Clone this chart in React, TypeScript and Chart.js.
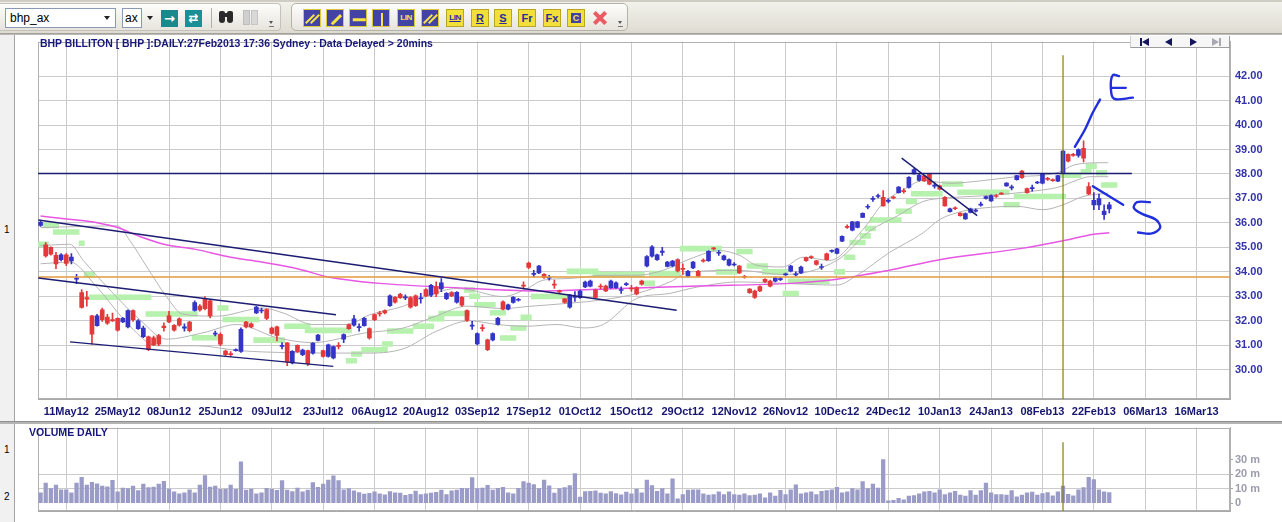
import React, { useEffect, useRef } from "react";
import { Chart, registerables } from "chart.js";

Chart.register(...registerables);

// ---------------- data ----------------
const dateTicks = ["11May12","25May12","08Jun12","25Jun12","09Jul12","23Jul12","06Aug12","20Aug12","03Sep12","17Sep12","01Oct12","15Oct12","29Oct12","12Nov12","26Nov12","10Dec12","24Dec12","10Jan13","24Jan13","08Feb13","22Feb13","06Mar13","16Mar13"];
const dateTickIndex = [5,15,25,35,45,55,65,75,85,95,105,115,125,135,145,155,165,175,185,195,205,215,225];
const priceTicks = [30,31,32,33,34,35,36,37,38,39,40,41,42];
const volumeTicks = [0,10,20,30];

const opens = [35.90,35.10,35.00,34.68,34.50,34.70,34.45,33.70,33.15,32.95,32.20,31.80,32.45,32.15,32.05,32.10,31.95,31.75,32.42,31.68,31.35,31.35,31.30,31.40,31.78,32.20,31.82,32.08,31.70,31.95,32.42,32.60,32.88,32.82,31.45,31.45,30.76,30.66,30.78,30.75,31.95,31.88,32.32,32.40,32.46,31.70,31.75,30.95,31.10,30.28,31.00,30.62,30.78,30.68,31.20,30.78,30.55,30.48,31.00,31.25,31.85,31.82,31.72,31.80,31.68,32.25,32.32,32.42,32.62,32.96,33.08,32.94,32.95,33.02,32.90,33.28,33.05,33.40,33.30,32.90,33.15,32.76,32.96,32.42,31.78,31.06,31.72,31.22,31.22,31.85,32.78,32.48,32.75,32.84,33.46,34.36,33.90,33.96,33.90,33.74,33.50,33.22,32.90,32.56,32.96,32.95,33.38,33.42,33.26,33.42,33.42,33.35,33.35,33.24,33.48,33.34,33.36,33.62,34.24,34.64,34.50,34.80,34.22,34.24,34.50,34.14,33.82,34.16,34.02,34.48,34.46,34.96,34.76,34.50,34.27,34.28,34.24,33.82,33.30,33.22,33.40,33.70,33.62,33.62,33.68,33.88,34.03,33.88,33.96,34.58,34.62,34.45,34.18,34.74,34.84,34.75,35.25,35.86,35.70,35.82,36.23,36.64,36.96,37.08,37.05,36.88,37.06,37.24,37.32,37.45,38.00,37.74,37.92,38.00,37.50,37.52,37.05,36.46,36.62,36.40,36.16,36.43,36.48,36.73,37.00,36.90,37.12,37.22,37.51,37.43,37.77,38.12,37.40,37.40,37.63,37.62,37.82,37.77,37.71,38.04,38.80,38.80,38.76,39.05,37.49,36.74,36.74,36.34,36.57];
const highs = [36.08,35.20,35.02,34.80,34.75,34.75,34.75,33.90,33.28,33.20,32.22,32.26,32.52,32.26,32.32,32.12,32.14,32.45,32.45,32.05,31.78,31.38,31.38,31.45,31.92,32.39,31.85,32.12,31.88,31.98,32.82,32.66,32.99,32.86,31.58,31.51,30.80,30.74,30.86,31.71,31.98,31.92,32.59,32.52,32.49,31.74,31.78,31.11,31.11,30.78,31.02,30.85,30.80,31.11,31.45,30.80,31.05,30.98,31.11,31.47,31.88,32.22,31.88,32.14,31.71,32.28,32.39,32.45,33.06,32.99,33.12,33.06,32.99,33.06,33.12,33.32,33.49,33.59,33.73,33.15,33.19,33.19,32.99,32.45,31.98,31.51,31.85,31.25,31.51,32.14,32.82,32.68,32.99,32.92,33.59,34.40,34.06,34.27,33.93,33.86,33.66,33.26,32.92,33.08,33.19,33.26,33.62,33.66,33.30,33.50,33.46,33.66,33.59,33.39,33.56,33.45,33.39,33.66,34.67,35.07,34.73,35.00,34.43,34.47,34.53,34.33,34.06,34.43,34.06,34.53,34.87,34.99,34.87,34.69,34.53,34.38,34.27,33.86,33.32,33.26,33.43,33.73,33.66,33.79,33.78,33.95,34.27,34.00,34.24,34.60,34.66,34.47,34.32,34.77,34.90,34.96,35.47,35.92,36.07,36.07,36.41,36.75,37.08,37.18,37.32,36.98,37.10,37.49,37.40,37.89,38.22,37.99,37.95,38.02,37.65,37.55,37.08,36.61,36.66,36.41,36.41,36.61,36.58,36.85,37.10,37.15,37.16,37.24,37.65,37.55,37.95,38.15,37.42,37.55,37.70,38.02,37.86,37.80,37.95,38.96,38.82,38.84,39.03,39.36,37.65,37.24,37.18,36.74,36.84];
const lows = [35.86,34.60,34.68,34.13,34.45,34.25,34.32,33.52,32.52,32.60,31.05,31.78,31.98,31.85,31.98,31.58,31.92,31.71,31.98,31.65,31.31,30.78,30.98,30.98,31.58,31.92,31.58,31.78,31.58,31.55,32.39,32.39,32.45,32.12,31.38,30.98,30.58,30.54,30.76,30.71,31.71,31.71,32.29,32.32,32.05,31.45,31.18,30.85,30.17,30.24,30.71,30.58,30.17,30.64,31.18,30.51,30.51,30.44,30.85,31.11,31.65,31.78,31.58,31.78,31.25,32.01,32.19,32.28,32.59,32.72,32.92,32.86,32.52,32.59,32.72,32.99,32.99,32.99,33.19,32.86,32.99,32.72,32.59,31.98,31.65,31.02,31.58,30.78,31.18,31.82,32.45,32.45,32.72,32.80,33.30,34.13,33.79,33.93,33.73,33.66,33.32,33.14,32.72,32.52,32.79,32.92,33.35,33.39,32.92,33.30,33.19,33.32,33.32,33.12,33.44,33.20,33.06,33.46,34.20,34.60,34.47,34.67,34.20,34.20,34.00,33.90,33.79,34.13,33.79,34.40,34.43,34.90,34.67,34.47,34.24,34.24,33.93,33.74,33.12,32.92,33.19,33.56,33.39,33.59,33.64,33.85,34.00,33.82,33.93,34.43,34.54,34.27,34.10,34.47,34.80,34.73,35.23,35.78,35.67,35.80,36.21,36.57,36.88,37.02,36.68,36.82,36.98,37.22,37.22,37.42,37.99,37.71,37.70,37.55,37.42,37.35,36.68,36.44,36.54,36.28,36.14,36.41,36.44,36.68,36.97,36.88,37.04,37.16,37.49,37.35,37.75,37.82,37.22,37.30,37.60,37.59,37.74,37.70,37.69,38.02,38.49,38.72,38.69,38.49,37.15,36.54,36.54,36.14,36.41];
const closes = [36.02,34.65,34.72,34.33,34.70,34.35,34.60,33.76,32.55,32.88,31.45,32.20,32.05,31.90,32.00,31.62,32.10,32.42,32.05,32.00,31.70,30.82,31.02,31.05,31.72,31.95,31.62,31.82,31.75,31.60,32.75,32.45,32.50,32.20,31.50,31.05,30.62,30.62,30.82,31.65,31.75,31.75,32.56,32.44,32.10,31.48,31.40,31.00,30.32,30.75,30.74,30.80,30.25,31.08,31.42,30.55,31.02,30.95,30.95,31.44,31.68,32.08,31.76,32.10,31.30,32.05,32.28,32.32,33.02,32.76,32.95,32.98,32.56,32.62,32.94,33.02,33.45,33.10,33.55,33.12,33.02,33.16,32.64,32.02,31.82,31.48,31.68,30.82,31.48,32.10,32.48,32.65,32.96,32.86,33.42,34.18,33.94,34.24,33.76,33.78,33.46,33.18,32.75,33.05,33.00,33.22,33.58,33.62,32.96,33.38,33.22,33.62,33.55,33.28,33.52,33.30,33.10,33.50,34.62,35.02,34.70,34.85,34.40,34.44,34.04,34.10,34.02,34.40,33.82,34.44,34.84,34.94,34.80,34.66,34.50,34.32,33.96,33.78,33.15,32.96,33.22,33.60,33.42,33.76,33.72,33.92,34.24,33.92,34.20,34.46,34.58,34.30,34.22,34.50,34.86,34.94,35.45,35.82,36.04,36.04,36.39,36.68,37.00,37.12,36.70,36.92,37.02,37.47,37.28,37.86,38.18,37.96,37.72,37.58,37.55,37.38,36.70,36.58,36.58,36.30,36.38,36.58,36.52,36.77,37.08,37.12,37.08,37.18,37.63,37.47,37.93,37.85,37.24,37.44,37.67,38.00,37.78,37.73,37.93,38.94,38.52,38.76,39.00,38.65,37.19,36.92,37.00,36.48,36.74];

const volumes = [7.1,13.8,10.0,12.4,9.3,9.3,7.1,13.8,17.8,12.4,14.4,13.3,11.8,11.3,15.8,7.8,10.4,10.0,11.8,8.7,13.1,10.7,11.1,13.1,15.1,9.8,7.8,6.4,7.1,9.3,7.1,12.4,19.1,11.1,11.8,9.6,9.8,12.4,9.5,
  28.5,
  9.0,9.8,6.5,7.2,10.2,9.5,8.9,15.6,9.0,8.0,10.5,7.8,9.0,14.2,11.0,13.1,16.0,18.9,15.6,9.3,10.0,
  8.5,7.4,6.3,6.9,7.8,6.5,5.8,8.0,7.2,7.0,5.5,6.2,8.4,6.0,6.4,7.0,7.5,9.0,6.0,8.5,9.1,10.3,10.0,
  17.6,
  10.0,10.4,12.3,9.0,10.2,11.0,7.1,6.5,10.3,14.9,13.8,12.8,10.0,16.0,12.0,7.0,10.0,10.8,12.2,
  20.4,
  4.2,8.0,8.2,8.5,7.0,6.5,8.0,6.6,5.8,7.6,6.5,9.8,7.2,
  16.0,12.2,8.2,10.0,6.4,16.7,3.1,6.0,9.1,9.3,9.3,6.4,5.6,6.0,7.8,6.0,7.8,6.0,5.6,6.4,5.3,5.6,6.4,3.8,7.1,4.9,8.9,6.0,9.3,12.7,6.4,7.1,7.8,6.0,8.2,8.7,9.3,10.9,7.1,7.8,10.0,9.3,14.9,10.0,13.1,
  10.5,30.0,
  1.6,2.0,3.3,2.4,4.9,5.3,6.4,7.8,8.2,7.1,9.3,6.0,7.1,8.2,5.6,4.9,8.7,5.6,8.7,13.8,7.1,6.0,6.0,5.6,8.7,4.4,5.6,7.1,7.6,5.6,
  6.7,7.3,5.1,7.8,11.8,6.2,5.1,9.3,10.7,17.8,16.2,9.3,7.8,7.3];

// indicator lines: [bar index, price]
const longMA: [number, number][] = [[0,36.28],[6,36.14],[11,36.01],[15,35.81],[19,35.47],[24,35.13],[30,34.93],[37,34.6],[43,34.4],[50,34.13],[56,33.79],[63,33.59],[66,33.53],[84,33.32],[97,33.22],[110,33.3],[128,33.42],[146,33.53],[155,33.7],[165,34.06],[175,34.5],[191,34.96],[199,35.27],[205,35.54],[208,35.6]];
const upperBand: [number, number][] = [[0,35.81],[15,35.88],[17.4,35.27],[20.7,34.2],[24.5,32.99],[27.7,32.27],[34.3,32.19],[43.3,32.52],[47.2,32.32],[53,31.85],[59.6,31.85],[64.1,32.25],[70.5,32.59],[75.8,33.06],[81,33.32],[83.6,33.26],[90,32.99],[94.7,33.32],[97.8,33.66],[103,33.73],[109.5,33.86],[116.1,33.86],[121.1,34.06],[126.4,34.53],[132.2,34.87],[136.1,34.67],[139.4,34.27],[144.5,34.2],[148.4,34.6],[153.6,34.47],[160.1,35.74],[164,36.81],[167.9,37.35],[171.8,37.73],[177,37.62],[183.4,37.73],[190,37.89],[195.1,37.95],[198.4,38.09],[200.9,38.35],[204.2,38.45],[207.8,38.46]];
const middleBand: [number, number][] = [[0,35.07],[5.7,35.13],[8.3,34.47],[13.5,33.26],[19.3,32.05],[24.5,31.25],[31.6,31.51],[38.2,31.85],[46,31.31],[53,31.11],[63,31.5],[70.5,31.7],[77,32.2],[83,32.6],[90,32.5],[95,32.59],[103,32.72],[109.5,32.86],[116.1,33.12],[122.5,33.59],[126.4,34.0],[136.1,34.06],[144.5,33.89],[155,34.47],[161.4,35.67],[166.7,36.28],[171.8,36.88],[175.6,37.01],[183.4,37.11],[195.1,37.35],[198.4,37.48],[201.7,37.75],[204.2,37.89],[207.8,37.89]];
const lowerBand: [number, number][] = [[0,34.33],[5.7,34.4],[10.9,33.39],[17.4,31.78],[22.6,30.98],[30.4,30.98],[38.8,30.78],[48.5,30.7],[63,30.68],[70.5,30.85],[77.1,31.58],[83.6,32.0],[88.8,31.85],[94.7,31.78],[100.5,31.85],[105.6,31.71],[109.5,31.85],[116.1,32.92],[122.5,33.12],[126.4,33.32],[136.1,33.59],[144.5,33.53],[155,33.46],[158.9,33.86],[165.3,34.8],[171.8,35.6],[175,36.14],[179.5,36.48],[183.4,36.61],[190,36.68],[195.1,36.54],[199,36.74],[202.9,37.08],[207.8,37.22]];
// light-green stepped indicator: [first bar, last bar, level]
const greenSegments: [number, number, number][] = [[0,1,35.13],[1,3,35.9],[3,7,35.63],[8,8,35.17],[9,10,33.89],[10,21,32.96],[21,30,32.28],[30,35,31.31],[35,36,32.52],[36,42,32.05],[42,47,31.21],[48,52,31.78],[52,60,31.61],[60,61,30.37],[61,62,30.64],[63,67,30.82],[67,68,31.05],[68,72,31.58],[73,76,31.78],[76,78,32.09],[78,83,32.3],[83,84,33.26],[84,85,33.0],[85,88,32.66],[88,90,32.33],[90,92,31.3],[92,94,31.71],[94,95,32.14],[96,102,32.99],[103,108,34.02],[108,117,33.89],[118,119,33.53],[119,124,33.93],[125,132,34.95],[132,135,34.0],[136,138,34.83],[138,141,34.24],[141,145,34.0],[145,147,33.12],[146,153,33.62],[155,156,34.0],[157,158,34.6],[158,160,35.2],[160,161,35.47],[161,162,35.77],[162,167,36.12],[167,169,36.48],[169,170,36.88],[170,175,37.19],[176,179,37.59],[179,188,37.25],[188,190,36.74],[190,199,37.08],[199,202,37.95],[203,204,38.09],[204,205,38.32],[206,207,38.05],[207,209,37.55]];
// user-drawn trend lines: [[bar, price], [bar, price]]
const trendLines: [number, number][][] = [[[-0.44,36.12],[123.8,32.43]],[[-0.44,33.75],[57.5,32.25]],[[5.73,31.14],[56.97,30.14]],[[167.6,38.65],[182.3,36.30]]];
const resistanceLevel = 38.02;
const resistanceEnd = 212.4;
const supportLevel = 33.79;
const markerIndex = 199;
// hand-written "E" and "S" notes, in [bar, price]
const noteStrokes: [number, number][][] = [
  [[201.3,39.11],[203.3,39.83],[204.8,40.51],[206.2,41.04]],
  [[209.9,42.0],[208.7,42.04],[208.3,41.56],[208.9,41.08],[212.6,41.12]],
  [[208.5,41.52],[211.2,41.52]],
  [[204.8,37.50],[210.7,36.74]],
  [[215.9,36.85],[213.4,36.85],[212.8,36.61],[214.4,36.37],[217.1,36.13],[217.9,35.81],[216.3,35.57],[213.6,35.61]],
];

// ---------------- styles ----------------
const FONT = '"Liberation Sans", Arial, Helvetica, sans-serif';
const UP = "#3434c6";
const DOWN = "#e23a3a";
const NAVY = "#16166e";
const GRID = "#cbcbcb";
const X_MIN = -0.5;
const X_MAX = 231.5;
const P_MIN = 28.805;
const P_MAX = 43.41;
const V_MIN = -5.333;
const V_MAX = 52;

const framePlugin = {
  id: "frame",
  beforeDatasetsDraw(chart: any) {
    const { ctx, chartArea } = chart;
    ctx.save();
    ctx.strokeStyle = "#b0b0b0";
    ctx.lineWidth = 1;
    ctx.strokeRect(Math.round(chartArea.left) + 0.5, Math.round(chartArea.top) + 0.5, Math.round(chartArea.right - chartArea.left) - 1, Math.round(chartArea.bottom - chartArea.top) - 1);
    ctx.restore();
  },
};

function lineDs(points: [number, number][], color: string, width: number, order: number, extra: any = {}) {
  return {
    type: "line",
    data: points.map(([x, y]) => ({ x, y })),
    borderColor: color,
    borderWidth: width,
    pointRadius: 0,
    fill: false,
    order,
    ...extra,
  };
}

const candleColor = (i: number) => (closes[i] >= opens[i] ? UP : DOWN);

function xScale(showLabels: boolean, height: number) {
  return {
    type: "linear",
    min: X_MIN,
    max: X_MAX,
    offset: false,
    afterBuildTicks: (axis: any) => {
      axis.ticks = dateTickIndex.map((v) => ({ value: v }));
    },
    afterFit: (axis: any) => {
      axis.height = height;
    },
    ticks: {
      display: showLabels,
      autoSkip: false,
      maxRotation: 0,
      padding: 6,
      color: NAVY,
      font: { family: FONT, size: 11, weight: "bold" },
      callback: (_v: any, i: number) => dateTicks[i],
    },
    grid: { color: GRID, drawTicks: false, offset: false },
    border: { display: true, color: "#a8a8a8" },
  };
}

function priceConfig(): any {
  const greenBars: any[] = [];
  greenSegments.forEach(([s, e, v]) => {
    for (let i = s; i <= e; i++) greenBars.push({ x: i, y: [v - 0.1, v + 0.1] });
  });
  const datasets: any[] = [
    ...noteStrokes.map((s) => lineDs(s, "#1f30dc", 2.4, -3, { tension: 0.35, borderCapStyle: "round", borderJoinStyle: "round" })),
    ...trendLines.map((t) => lineDs(t, "#1c1c72", 1.4, -2)),
    lineDs([[X_MIN, resistanceLevel], [resistanceEnd, resistanceLevel]], "#1c1c72", 1.4, -2),
    lineDs([[markerIndex, P_MIN], [markerIndex, 42.85]], "#8a7b10", 1.2, -2),
    lineDs([[X_MIN, supportLevel], [X_MAX, supportLevel]], "#e39a3c", 1.5, 0),
    {
      type: "bar",
      data: opens.map((o, i) => ({ x: i, y: [Math.min(o, closes[i]), Math.max(o, closes[i])] })),
      backgroundColor: (c: any) => candleColor(c.dataIndex),
      barThickness: 4,
      minBarLength: 1,
      grouped: false,
      order: 1,
    },
    {
      type: "bar",
      data: highs.map((h, i) => ({ x: i, y: [lows[i], h] })),
      backgroundColor: (c: any) => candleColor(c.dataIndex),
      barThickness: 1,
      grouped: false,
      order: 2,
    },
    lineDs(longMA, "#e856e4", 1.5, 3, { cubicInterpolationMode: "monotone" }),
    lineDs(upperBand, "#b5b5b5", 1, 4, { cubicInterpolationMode: "monotone" }),
    lineDs(middleBand, "#b5b5b5", 1, 4, { cubicInterpolationMode: "monotone" }),
    lineDs(lowerBand, "#b5b5b5", 1, 4, { cubicInterpolationMode: "monotone" }),
    {
      type: "bar",
      data: greenBars,
      backgroundColor: "#b7f1ae",
      barThickness: 5.3,
      grouped: false,
      order: 6,
    },
  ];
  return {
    type: "bar",
    data: { datasets },
    plugins: [framePlugin],
    options: {
      animation: false,
      responsive: false,
      events: [],
      layout: { padding: { left: 8, top: 6, right: 0, bottom: 0 } },
      plugins: { legend: { display: false }, tooltip: { enabled: false } },
      scales: {
        x: xScale(true, 26),
        y: {
          type: "linear",
          position: "right",
          min: P_MIN,
          max: P_MAX,
          afterBuildTicks: (axis: any) => {
            axis.ticks = priceTicks.map((v) => ({ value: v }));
          },
          afterFit: (axis: any) => {
            axis.width = 52;
          },
          ticks: {
            padding: 5,
            color: "#3232ac",
            font: { family: FONT, size: 11, weight: "bold" },
            callback: (v: any) => Number(v).toFixed(2),
          },
          grid: { color: GRID, drawTicks: false },
          border: { display: true, color: "#b0b0b0" },
        },
      },
    },
  };
}

function volumeConfig(): any {
  return {
    type: "bar",
    data: {
      datasets: [
        lineDs([[markerIndex, V_MIN], [markerIndex, 42]], "#8a7b10", 1.2, 0),
        {
          type: "bar",
          data: volumes.map((v, i) => ({ x: i, y: v })),
          backgroundColor: "#9b9bc7",
          barThickness: 3.6,
          grouped: false,
          order: 1,
        },
      ],
    },
    plugins: [framePlugin],
    options: {
      animation: false,
      responsive: false,
      events: [],
      layout: { padding: { left: 8, top: 6, right: 0, bottom: 0 } },
      plugins: { legend: { display: false }, tooltip: { enabled: false } },
      scales: {
        x: xScale(false, 11),
        y: {
          type: "linear",
          position: "right",
          min: V_MIN,
          max: V_MAX,
          afterBuildTicks: (axis: any) => {
            axis.ticks = volumeTicks.map((v) => ({ value: v }));
          },
          afterFit: (axis: any) => {
            axis.width = 52;
          },
          ticks: {
            padding: 2,
            color: "#9c9cae",
            font: { family: FONT, size: 11, weight: "bold" },
            callback: (v: any) => (v === 0 ? "0" : v + " m"),
          },
          grid: {
            color: (c: any) => (c.tick && c.tick.value > 0 && c.tick.value < 30 ? GRID : "rgba(0,0,0,0)"),
            drawTicks: true,
            tickLength: 3,
            tickColor: "#a4a4a4",
          },
          border: { display: true, color: "#b0b0b0" },
        },
      },
    },
  };
}

// ---------------- toolbar pieces ----------------
const abs = (s: React.CSSProperties): React.CSSProperties => ({ position: "absolute", ...s });

function DownArrow({ left, top }: { left: number; top: number }) {
  return <div style={abs({ left, top, width: 0, height: 0, borderLeft: "3.5px solid transparent", borderRight: "3.5px solid transparent", borderTop: "4px solid #222" })} />;
}

function Grip({ left }: { left: number }) {
  return (
    <div style={abs({ left, top: 6, width: 5, height: 24 })}>
      <div style={abs({ left: 0, top: 15, width: 0, height: 0, borderLeft: "2.5px solid transparent", borderRight: "2.5px solid transparent", borderTop: "3px solid #555" })} />
      <div style={abs({ left: 0, top: 20, width: 5, height: 1, background: "#777" })} />
    </div>
  );
}

function Bar({ angle, color, len = 12, w = 2.5 }: { angle: number; color: string; len?: number; w?: number }) {
  return <div style={abs({ left: 9 - w / 2, top: 9 - len / 2, width: w, height: len, background: color, transform: `rotate(${angle}deg)` })} />;
}

type IconSpec = { cx: number; kind: "blue" | "yellow" | "x"; text?: string; bars?: number[]; underline?: boolean; box?: boolean };
const toolIcons: IconSpec[] = [
  { cx: 312, kind: "blue", bars: [45, 45] },
  { cx: 335, kind: "blue", bars: [45] },
  { cx: 358, kind: "blue", bars: [90] },
  { cx: 381, kind: "blue", bars: [0] },
  { cx: 406, kind: "blue", text: "LIN" },
  { cx: 430, kind: "blue", bars: [45, 45] },
  { cx: 455, kind: "yellow", text: "LIN", underline: true },
  { cx: 480, kind: "yellow", text: "R", underline: true },
  { cx: 503, kind: "yellow", text: "S", underline: true },
  { cx: 527, kind: "yellow", text: "Fr" },
  { cx: 552, kind: "yellow", text: "Fx" },
  { cx: 576, kind: "yellow", text: "C", box: true },
  { cx: 600, kind: "x" },
];

function ToolIcon({ spec }: { spec: IconSpec }) {
  const left = spec.cx - 9;
  if (spec.kind === "x") {
    return (
      <div style={abs({ left, top: 9, width: 18, height: 18 })}>
        <Bar angle={45} color="#ec5a64" len={16} w={4} />
        <Bar angle={-45} color="#ec5a64" len={16} w={4} />
      </div>
    );
  }
  const blue = spec.kind === "blue";
  const bg = blue ? "#4343a6" : "#f2df3a";
  const fg = blue ? "#f6e34a" : "#2b2b9c";
  return (
    <div style={abs({ left, top: 9, width: 18, height: 18, background: bg, border: blue ? "1px solid #d8c83a" : "1px solid #b9a620", boxSizing: "border-box", overflow: "hidden" })}>
      {spec.bars && spec.bars.length === 1 && <Bar angle={spec.bars[0]} color={fg} len={13} w={2.5} />}
      {spec.bars && spec.bars.length === 2 && (
        <>
          <div style={abs({ left: -3, top: 0, width: 18, height: 18 })}><Bar angle={45} color={fg} len={12} w={2} /></div>
          <div style={abs({ left: 2, top: 0, width: 18, height: 18 })}><Bar angle={45} color={fg} len={12} w={2} /></div>
        </>
      )}
      {spec.text && (
        <div style={abs({ left: spec.box ? 3 : 0, top: spec.box ? 3 : 0, width: spec.box ? 10 : 16, height: spec.box ? 10 : 16, background: spec.box ? "#4343a6" : "transparent", color: spec.box ? "#f6e34a" : fg, fontFamily: FONT, fontWeight: "bold", fontSize: spec.text.length > 2 ? 8 : spec.box ? 9 : 11, lineHeight: spec.box ? "10px" : "16px", textAlign: "center", textDecoration: spec.underline ? "underline" : "none", letterSpacing: spec.text.length > 2 ? -0.5 : 0 })}>
          {spec.text}
        </div>
      )}
    </div>
  );
}

function Toolbar() {
  return (
    <div style={abs({ left: 0, top: 0, width: 1282, height: 34, background: "linear-gradient(#f3f2ec,#dedcd2)", borderBottom: "1px solid #a3a198", boxSizing: "border-box" })}>
      <div style={abs({ left: 0, top: 0, width: 1282, height: 2, background: "#cfcdc3" })} />
      <div style={abs({ left: 0, top: 3, width: 281, height: 28, background: "linear-gradient(#fdfdfb,#e6e4dc)", border: "1px solid #c4c2b8", borderLeft: "none", borderRadius: "0 4px 4px 0", boxSizing: "border-box" })} />
      <div style={abs({ left: 5, top: 8, width: 111, height: 20, background: "#fff", border: "1px solid #8b9ab4", boxSizing: "border-box", fontFamily: FONT, fontSize: 12, lineHeight: "18px", paddingLeft: 4, color: "#000" })}>bhp_ax</div>
      <DownArrow left={104} top={16} />
      <div style={abs({ left: 122, top: 8, width: 20, height: 20, background: "#fff", border: "1px solid #8b9ab4", boxSizing: "border-box", fontFamily: FONT, fontSize: 12, lineHeight: "18px", paddingLeft: 2, color: "#000" })}>ax</div>
      <DownArrow left={147} top={16} />
      <div style={abs({ left: 161, top: 10, width: 17, height: 17, background: "#19898c", color: "#fff", fontFamily: '"DejaVu Sans", sans-serif', fontWeight: "bold", fontSize: 13, lineHeight: "17px", textAlign: "center" })}>→</div>
      <div style={abs({ left: 185, top: 10, width: 17, height: 17, background: "#1a8f97", color: "#fff", fontFamily: '"DejaVu Sans", sans-serif', fontWeight: "bold", fontSize: 12, lineHeight: "17px", textAlign: "center" })}>⇄</div>
      <div style={abs({ left: 211, top: 8, width: 1, height: 20, background: "#b3b1a7" })} />
      <div style={abs({ left: 219, top: 11, width: 6, height: 12, background: "#2a2a2a", borderRadius: "2px 2px 3px 3px" })} />
      <div style={abs({ left: 227, top: 11, width: 6, height: 12, background: "#2a2a2a", borderRadius: "2px 2px 3px 3px" })} />
      <div style={abs({ left: 224, top: 13, width: 4, height: 4, background: "#2a2a2a" })} />
      <div style={abs({ left: 243, top: 10, width: 7, height: 15, background: "#cfcfcf", border: "1px solid #bdbdbd", boxSizing: "border-box" })} />
      <div style={abs({ left: 251, top: 10, width: 7, height: 15, background: "#d8d8d8", border: "1px solid #c4c4c4", boxSizing: "border-box" })} />
      <Grip left={269} />
      <div style={abs({ left: 291, top: 3, width: 337, height: 28, background: "linear-gradient(#fdfdfb,#e6e4dc)", border: "1px solid #b5b3a9", borderRadius: 5, boxSizing: "border-box" })} />
      {toolIcons.map((s, i) => (
        <ToolIcon key={i} spec={s} />
      ))}
      <Grip left={618} />
    </div>
  );
}

function NavButtons() {
  const tri = (left: number, dir: "l" | "r", color: string) => (
    <div style={abs({ left, top: 38, width: 0, height: 0, borderTop: "4px solid transparent", borderBottom: "4px solid transparent", ...(dir === "l" ? { borderRight: `7px solid ${color}` } : { borderLeft: `7px solid ${color}` }) })} />
  );
  return (
    <div style={abs({ left: 1130, top: 36, width: 100, height: 12 })}>
      <div style={abs({ left: 0, top: 0, width: 100, height: 12, background: "#f6f6f6", borderBottom: "1px solid #9d9d9d", borderRight: "1px solid #9d9d9d", borderLeft: "1px solid #d0d0d0", boxSizing: "border-box" })} />
      <div style={{ position: "absolute", left: -1130, top: -36 }}>
        <div style={abs({ left: 1140, top: 38, width: 2, height: 8, background: "#15155e" })} />
        {tri(1142, "l", "#15155e")}
        {tri(1165, "l", "#15155e")}
        {tri(1190, "r", "#15155e")}
        {tri(1212, "r", "#a9a9b4")}
        <div style={abs({ left: 1219, top: 38, width: 2, height: 8, background: "#a9a9b4" })} />
      </div>
    </div>
  );
}

export default function App() {
  const priceRef = useRef<HTMLCanvasElement>(null);
  const volRef = useRef<HTMLCanvasElement>(null);

  useEffect(() => {
    const pc = new Chart(priceRef.current as HTMLCanvasElement, priceConfig());
    const vc = new Chart(volRef.current as HTMLCanvasElement, volumeConfig());
    return () => {
      pc.destroy();
      vc.destroy();
    };
  }, []);

  return (
    <div style={{ position: "fixed", left: 0, top: 0, width: 1282, height: 522, background: "#fff", overflow: "hidden", fontFamily: FONT }}>
      <Toolbar />
      <div style={abs({ left: 0, top: 34, width: 1282, height: 1, background: "#b9b9b9" })} />
      <div style={abs({ left: 0, top: 35, width: 14, height: 487, background: "#f1f1f1", borderRight: "1px solid #a4a4a4" })} />
      <div style={abs({ left: 4, top: 224, fontSize: 10, color: "#000", fontFamily: FONT })}>1</div>
      <div style={abs({ left: 4, top: 444, fontSize: 10, color: "#000", fontFamily: FONT })}>1</div>
      <div style={abs({ left: 4, top: 491, fontSize: 10, color: "#000", fontFamily: FONT })}>2</div>
      <canvas ref={priceRef} width={1252} height={395} style={abs({ left: 30, top: 30, width: 1252, height: 395 })} />
      <canvas ref={volRef} width={1252} height={103} style={abs({ left: 30, top: 419, width: 1252, height: 103 })} />
      <div style={abs({ left: 0, top: 421, width: 1282, height: 3, background: "#b4b4b4", borderTop: "1px solid #8f8f8f", boxSizing: "border-box" })} />
      <div style={abs({ left: 40, top: 36, whiteSpace: "nowrap", fontSize: 11, fontWeight: "bold", color: "#17177c", transform: "scaleX(0.95)", transformOrigin: "left top", lineHeight: "14px" })}>
        BHP BILLITON [ BHP ]:DAILY:27Feb2013 17:36 Sydney : Data Delayed &gt; 20mins
      </div>
      <div style={abs({ left: 29, top: 425, whiteSpace: "nowrap", fontSize: 11, fontWeight: "bold", color: "#17177c", transform: "scaleX(0.96)", transformOrigin: "left top", lineHeight: "14px" })}>VOLUME DAILY</div>
      <NavButtons />
    </div>
  );
}
